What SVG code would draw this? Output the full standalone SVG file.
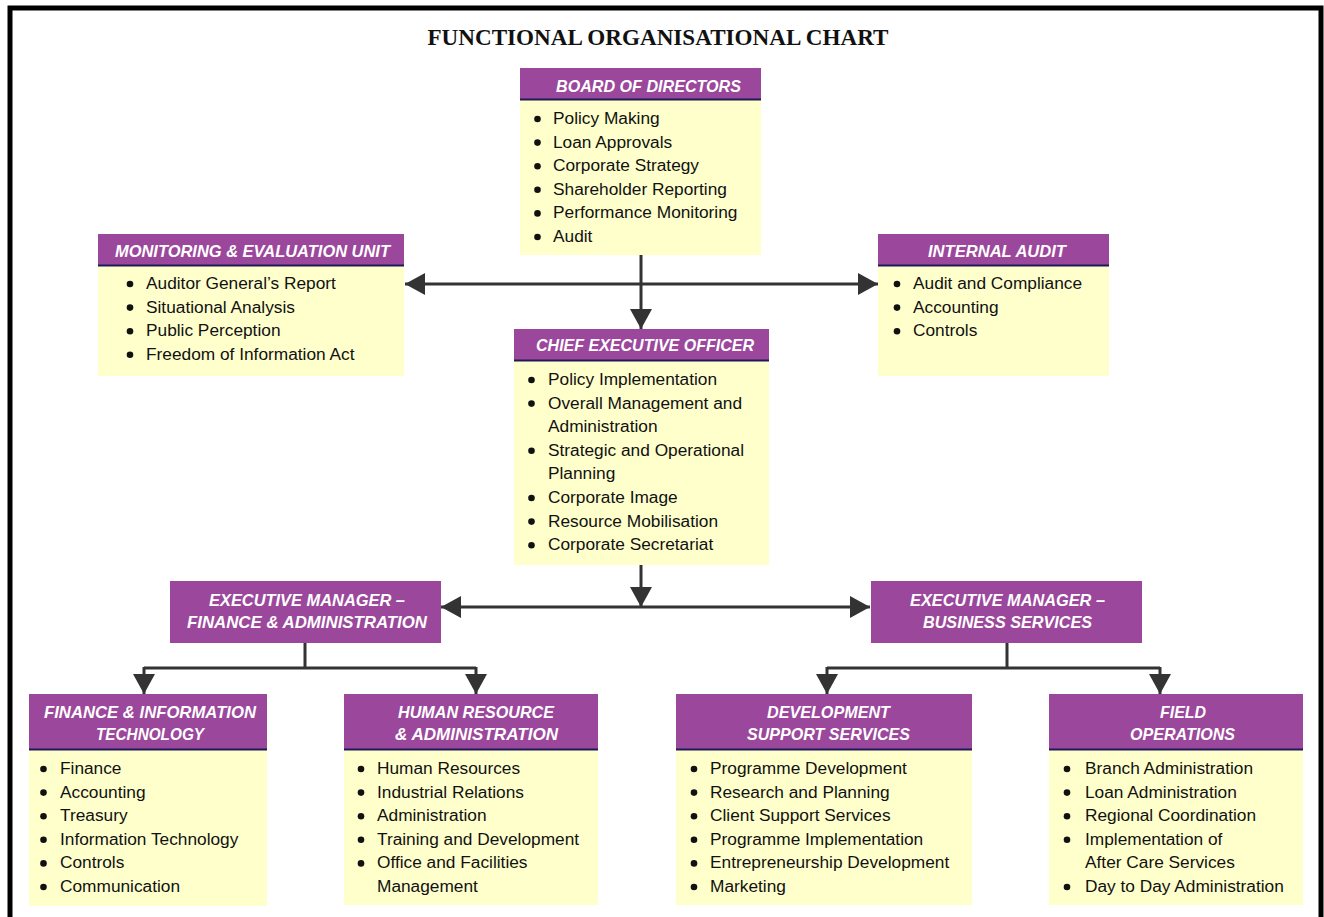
<svg xmlns="http://www.w3.org/2000/svg" width="1324" height="917" viewBox="0 0 1324 917">
<style>
.hd{fill:#9B479C}
.bd{fill:#FFFFCC}
.rule{stroke:#1E1A5A;stroke-width:2}
.ht{font-family:"Liberation Sans",Arial,sans-serif;font-weight:bold;font-style:italic;font-size:17px;fill:#FFFFFF;text-anchor:middle}
.bt{font-family:"Liberation Sans",Arial,sans-serif;font-size:17.3px;fill:#111111}
.dot{fill:#111111}
.ln{stroke:#333333;stroke-width:3;fill:none}
.title{font-family:"Liberation Serif","Times New Roman",serif;font-weight:bold;font-size:23px;fill:#111111;text-anchor:middle}
</style>
<defs>
<marker id="ah" viewBox="0 0 20 22" refX="20" refY="11" markerWidth="20" markerHeight="22" markerUnits="userSpaceOnUse" orient="auto-start-reverse">
<path d="M0,0 L20,11 L0,22 Z" fill="#333333"/>
</marker>
</defs>
<rect x="0" y="0" width="1324" height="917" fill="#FFFFFF"/>
<path d="M10,917 V8 H1321 V917" fill="none" stroke="#000000" stroke-width="5"/>
<text class="title" x="658" y="45" textLength="461" lengthAdjust="spacingAndGlyphs">FUNCTIONAL ORGANISATIONAL CHART</text>

<g id="connectors">
<path class="ln" d="M641,255 V329" marker-end="url(#ah)"/>
<path class="ln" d="M405,284 H878" marker-start="url(#ah)" marker-end="url(#ah)"/>
<path class="ln" d="M641,565 V607" marker-end="url(#ah)"/>
<path class="ln" d="M441,607 H870" marker-start="url(#ah)" marker-end="url(#ah)"/>
<path class="ln" d="M305,643 V668 M144,668 H476"/>
<path class="ln" d="M144,667 V694" marker-end="url(#ah)"/>
<path class="ln" d="M476,667 V694" marker-end="url(#ah)"/>
<path class="ln" d="M1007,643 V668 M827,668 H1160"/>
<path class="ln" d="M827,667 V694" marker-end="url(#ah)"/>
<path class="ln" d="M1160,667 V694" marker-end="url(#ah)"/>
</g>

<g id="board">
<rect class="bd" x="520" y="99" width="241" height="156"/>
<rect class="hd" x="520" y="68" width="241" height="31"/>
<line class="rule" x1="520" y1="99.5" x2="761" y2="99.5"/>
<text class="ht" x="648.5" y="92" textLength="185" lengthAdjust="spacingAndGlyphs">BOARD OF DIRECTORS</text>
<g class="dot"><circle cx="537.5" cy="119" r="3.3"/><circle cx="537.5" cy="142.6" r="3.3"/><circle cx="537.5" cy="166.2" r="3.3"/><circle cx="537.5" cy="189.8" r="3.3"/><circle cx="537.5" cy="213.4" r="3.3"/><circle cx="537.5" cy="237" r="3.3"/></g>
<text class="bt" x="553" y="124">Policy Making</text>
<text class="bt" x="553" y="147.6">Loan Approvals</text>
<text class="bt" x="553" y="171.2">Corporate Strategy</text>
<text class="bt" x="553" y="194.8">Shareholder Reporting</text>
<text class="bt" x="553" y="218.4">Performance Monitoring</text>
<text class="bt" x="553" y="242">Audit</text>
</g>

<g id="monitoring">
<rect class="bd" x="98" y="265" width="306" height="111"/>
<rect class="hd" x="98" y="234" width="306" height="31"/>
<line class="rule" x1="98" y1="265.5" x2="404" y2="265.5"/>
<text class="ht" x="252.5" y="257" textLength="275" lengthAdjust="spacingAndGlyphs">MONITORING &amp; EVALUATION UNIT</text>
<g class="dot"><circle cx="130" cy="284" r="3.3"/><circle cx="130" cy="307.6" r="3.3"/><circle cx="130" cy="331.2" r="3.3"/><circle cx="130" cy="354.8" r="3.3"/></g>
<text class="bt" x="146" y="289">Auditor General’s Report</text>
<text class="bt" x="146" y="312.6">Situational Analysis</text>
<text class="bt" x="146" y="336.2">Public Perception</text>
<text class="bt" x="146" y="359.8">Freedom of Information Act</text>
</g>

<g id="internal-audit">
<rect class="bd" x="878" y="265" width="231" height="111"/>
<rect class="hd" x="878" y="234" width="231" height="31"/>
<line class="rule" x1="878" y1="265.5" x2="1109" y2="265.5"/>
<text class="ht" x="997" y="257" textLength="138" lengthAdjust="spacingAndGlyphs">INTERNAL AUDIT</text>
<g class="dot"><circle cx="897" cy="284" r="3.3"/><circle cx="897" cy="307.6" r="3.3"/><circle cx="897" cy="331.2" r="3.3"/></g>
<text class="bt" x="913" y="289">Audit and Compliance</text>
<text class="bt" x="913" y="312.6">Accounting</text>
<text class="bt" x="913" y="336.2">Controls</text>
</g>

<g id="ceo">
<rect class="bd" x="514" y="360" width="255" height="205"/>
<rect class="hd" x="514" y="329" width="255" height="31"/>
<line class="rule" x1="514" y1="360.5" x2="769" y2="360.5"/>
<text class="ht" x="645" y="351" textLength="218" lengthAdjust="spacingAndGlyphs">CHIEF EXECUTIVE OFFICER</text>
<g class="dot"><circle cx="531.5" cy="380" r="3.3"/><circle cx="531.5" cy="403.6" r="3.3"/><circle cx="531.5" cy="450.8" r="3.3"/><circle cx="531.5" cy="498" r="3.3"/><circle cx="531.5" cy="521.6" r="3.3"/><circle cx="531.5" cy="545.2" r="3.3"/></g>
<text class="bt" x="548" y="385">Policy Implementation</text>
<text class="bt" x="548" y="408.6">Overall Management and</text>
<text class="bt" x="548" y="432.2">Administration</text>
<text class="bt" x="548" y="455.8">Strategic and Operational</text>
<text class="bt" x="548" y="479.4">Planning</text>
<text class="bt" x="548" y="503">Corporate Image</text>
<text class="bt" x="548" y="526.6">Resource Mobilisation</text>
<text class="bt" x="548" y="550.2">Corporate Secretariat</text>
</g>

<g id="em-finance">
<rect class="hd" x="170" y="581" width="271" height="62"/>
<text class="ht" x="307" y="606" textLength="196" lengthAdjust="spacingAndGlyphs">EXECUTIVE MANAGER –</text>
<text class="ht" x="307" y="628" textLength="240" lengthAdjust="spacingAndGlyphs">FINANCE &amp; ADMINISTRATION</text>
</g>

<g id="em-business">
<rect class="hd" x="871" y="581" width="271" height="62"/>
<text class="ht" x="1007.5" y="606" textLength="195" lengthAdjust="spacingAndGlyphs">EXECUTIVE MANAGER –</text>
<text class="ht" x="1007.5" y="628" textLength="169" lengthAdjust="spacingAndGlyphs">BUSINESS SERVICES</text>
</g>

<g id="finance-it">
<rect class="bd" x="29" y="749" width="238" height="157"/>
<rect class="hd" x="29" y="694" width="238" height="55"/>
<line class="rule" x1="29" y1="749.5" x2="267" y2="749.5"/>
<text class="ht" x="150" y="718" textLength="212" lengthAdjust="spacingAndGlyphs">FINANCE &amp; INFORMATION</text>
<text class="ht" x="150" y="740" textLength="108" lengthAdjust="spacingAndGlyphs">TECHNOLOGY</text>
<g class="dot"><circle cx="43.5" cy="769" r="3.3"/><circle cx="43.5" cy="792.6" r="3.3"/><circle cx="43.5" cy="816.2" r="3.3"/><circle cx="43.5" cy="839.8" r="3.3"/><circle cx="43.5" cy="863.4" r="3.3"/><circle cx="43.5" cy="887" r="3.3"/></g>
<text class="bt" x="60" y="774">Finance</text>
<text class="bt" x="60" y="797.6">Accounting</text>
<text class="bt" x="60" y="821.2">Treasury</text>
<text class="bt" x="60" y="844.8">Information Technology</text>
<text class="bt" x="60" y="868.4">Controls</text>
<text class="bt" x="60" y="892">Communication</text>
</g>

<g id="human-resource">
<rect class="bd" x="344" y="749" width="254" height="156"/>
<rect class="hd" x="344" y="694" width="254" height="55"/>
<line class="rule" x1="344" y1="749.5" x2="598" y2="749.5"/>
<text class="ht" x="476" y="718" textLength="156" lengthAdjust="spacingAndGlyphs">HUMAN RESOURCE</text>
<text class="ht" x="476.5" y="740" textLength="163" lengthAdjust="spacingAndGlyphs">&amp; ADMINISTRATION</text>
<g class="dot"><circle cx="361" cy="769" r="3.3"/><circle cx="361" cy="792.6" r="3.3"/><circle cx="361" cy="816.2" r="3.3"/><circle cx="361" cy="839.8" r="3.3"/><circle cx="361" cy="863.4" r="3.3"/></g>
<text class="bt" x="377" y="774">Human Resources</text>
<text class="bt" x="377" y="797.6">Industrial Relations</text>
<text class="bt" x="377" y="821.2">Administration</text>
<text class="bt" x="377" y="844.8">Training and Development</text>
<text class="bt" x="377" y="868.4">Office and Facilities</text>
<text class="bt" x="377" y="892">Management</text>
</g>

<g id="development">
<rect class="bd" x="676" y="749" width="296" height="156"/>
<rect class="hd" x="676" y="694" width="296" height="55"/>
<line class="rule" x1="676" y1="749.5" x2="972" y2="749.5"/>
<text class="ht" x="828.5" y="718" textLength="123" lengthAdjust="spacingAndGlyphs">DEVELOPMENT</text>
<text class="ht" x="828.5" y="740" textLength="163" lengthAdjust="spacingAndGlyphs">SUPPORT SERVICES</text>
<g class="dot"><circle cx="694" cy="769" r="3.3"/><circle cx="694" cy="792.6" r="3.3"/><circle cx="694" cy="816.2" r="3.3"/><circle cx="694" cy="839.8" r="3.3"/><circle cx="694" cy="863.4" r="3.3"/><circle cx="694" cy="887" r="3.3"/></g>
<text class="bt" x="710" y="774">Programme Development</text>
<text class="bt" x="710" y="797.6">Research and Planning</text>
<text class="bt" x="710" y="821.2">Client Support Services</text>
<text class="bt" x="710" y="844.8">Programme Implementation</text>
<text class="bt" x="710" y="868.4">Entrepreneurship Development</text>
<text class="bt" x="710" y="892">Marketing</text>
</g>

<g id="field-operations">
<rect class="bd" x="1049" y="749" width="254" height="156"/>
<rect class="hd" x="1049" y="694" width="254" height="55"/>
<line class="rule" x1="1049" y1="749.5" x2="1303" y2="749.5"/>
<text class="ht" x="1183" y="718" textLength="46" lengthAdjust="spacingAndGlyphs">FIELD</text>
<text class="ht" x="1182.5" y="740" textLength="105" lengthAdjust="spacingAndGlyphs">OPERATIONS</text>
<g class="dot"><circle cx="1067" cy="769" r="3.3"/><circle cx="1067" cy="792.6" r="3.3"/><circle cx="1067" cy="816.2" r="3.3"/><circle cx="1067" cy="839.8" r="3.3"/><circle cx="1067" cy="887" r="3.3"/></g>
<text class="bt" x="1085" y="774">Branch Administration</text>
<text class="bt" x="1085" y="797.6">Loan Administration</text>
<text class="bt" x="1085" y="821.2">Regional Coordination</text>
<text class="bt" x="1085" y="844.8">Implementation of</text>
<text class="bt" x="1085" y="868.4">After Care Services</text>
<text class="bt" x="1085" y="892">Day to Day Administration</text>
</g>
</svg>
